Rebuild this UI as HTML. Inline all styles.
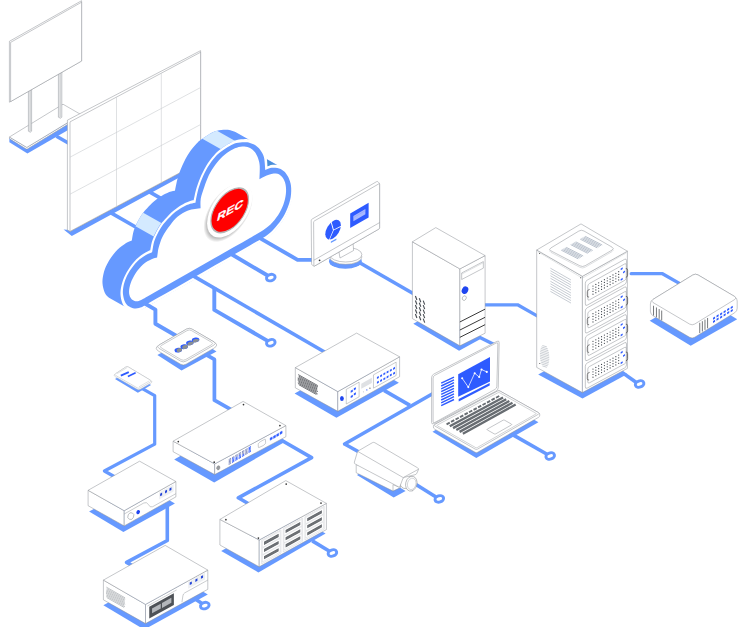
<!DOCTYPE html>
<html lang="en">
<head>
<meta charset="utf-8">
<title>Cloud recording network diagram</title>
<style>
html,body{margin:0;padding:0;background:#fff;}
body{width:748px;height:627px;overflow:hidden;font-family:"Liberation Sans",sans-serif;}
svg{display:block;}
</style>
</head>
<body>
<svg width="748" height="627" viewBox="0 0 748 627">
<rect width="748" height="627" fill="#fff"/>
<polygon points="9.4,138 9.4,142.2 27.4,153.6 82,122 82,116" fill="#6699ff"/>
<polyline points="56.5,136.2 70,144" fill="none" stroke="#6699ff" stroke-width="3.6" stroke-linecap="butt" stroke-linejoin="round" />
<path d="M9.4,137.8 Q9.4,137 10.09,137.41 L26.11,146.99 Q26.8,147.4 27.48,146.99 L80.32,115.01 Q81,114.6 81,115.4 L81,115.5 Q81,116.3 80.32,116.72 L27.48,148.88 Q26.8,149.3 26.12,148.88 L10.08,139.12 Q9.4,138.7 9.4,137.9 Z" fill="#fff" stroke="#8b8f94" stroke-width="0.5"/>
<polygon points="9.4,137 63,104.2 81,114.6 26.8,147.4" fill="#fff" stroke="#8b8f94" stroke-width="0.5" stroke-linejoin="round"/>
<polygon points="58.4,60 61.8,60 61.8,117.2 60.4,118.2 58.4,117.2" fill="#f4f5f6" stroke="#8b8f94" stroke-width="0.5" stroke-linejoin="round"/>
<polyline points="60.1,60 60.1,117.2" fill="none" stroke="#8b8f94" stroke-width="0.5" stroke-linecap="butt" stroke-linejoin="round" />
<polygon points="28.4,80 31.6,80 31.6,131.2 30.3,132.2 28.4,131.2" fill="#f4f5f6" stroke="#8b8f94" stroke-width="0.5" stroke-linejoin="round"/>
<polyline points="30.1,80 30.1,131.2" fill="none" stroke="#8b8f94" stroke-width="0.5" stroke-linecap="butt" stroke-linejoin="round" />
<polygon points="9.4,41.3 81.6,0.7 81.6,61 9.4,102.2" fill="#fff" stroke="#8b8f94" stroke-width="0.5" stroke-linejoin="round"/>
<polygon points="10.6,42.4 81.6,2.2 81.6,61 10.6,101.6" fill="#fff" stroke="#8b8f94" stroke-width="0.5" stroke-linejoin="round"/>
<polygon points="63.6,229.6 71.8,235.9 205,163.4 205,157 70,230" fill="#6699ff"/>
<polyline points="111,212.9 136.5,227.5" fill="none" stroke="#6699ff" stroke-width="3.6" stroke-linecap="butt" stroke-linejoin="round" />
<polyline points="149.5,191.9 163,199.6" fill="none" stroke="#6699ff" stroke-width="3.6" stroke-linecap="butt" stroke-linejoin="round" />
<polygon points="67.4,120.2 200.6,50.62 200.6,161.72 70,231.4 67.4,229.9" fill="#fff" stroke="#8b8f94" stroke-width="0.5" stroke-linejoin="round"/>
<polygon points="70,121.9 200.6,52.22 200.6,161.72 70,231.4" fill="#fff" stroke="#8b8f94" stroke-width="0.5" stroke-linejoin="round"/>
<polyline points="116.5,97.09 116.5,206.59" fill="none" stroke="#c9ccd0" stroke-width="0.6" stroke-linecap="butt" stroke-linejoin="round" />
<polyline points="161.3,73.19 161.3,182.69" fill="none" stroke="#c9ccd0" stroke-width="0.6" stroke-linecap="butt" stroke-linejoin="round" />
<polyline points="70,157.2 200.6,87.52" fill="none" stroke="#c9ccd0" stroke-width="0.6" stroke-linecap="butt" stroke-linejoin="round" />
<polyline points="70,194.2 200.6,124.52" fill="none" stroke="#c9ccd0" stroke-width="0.6" stroke-linecap="butt" stroke-linejoin="round" />
<polygon points="115.32,251.92 115.32,251.92 113.31,254.4 113.31,254.4 111.42,256.96 111.42,256.96 109.73,259.48 109.73,259.48 108.25,261.93 108.25,261.93 106.94,264.38 106.94,264.38 105.8,266.84 105.8,266.84 104.82,269.31 104.82,269.31 104,271.85 104,271.85 103.35,274.42 103.35,274.43 102.86,276.94 102.86,276.94 102.55,279.29 102.55,279.3 102.44,281.46 102.44,281.46 102.51,283.48 102.52,283.48 102.74,285.39 102.74,285.39 103.07,287.24 103.07,287.24 103.52,289.1 103.52,289.1 104.1,290.93 104.11,290.94 104.8,292.66 104.81,292.67 105.62,294.2 105.62,294.21 106.54,295.5 106.55,295.51 107.57,296.58 107.58,296.59 108.7,297.49 108.7,297.49 109.9,298.28 109.91,298.29 128.11,308.49 128.11,308.49 129.43,309.22 129.43,309.22 130.88,309.86 130.89,309.86 132.45,310.36 132.45,310.36 134.09,310.65 134.1,310.65 134.1,310.65 135.85,310.66 135.85,310.66 137.65,310.45 137.66,310.45 139.38,310.11 139.39,310.11 140.93,309.7 140.93,309.7 142.09,309.31 142.1,309.31 142.98,308.87 142.98,308.86 143.95,308.28 145.47,307.4 147.03,306.52 147.03,306.52 148.63,305.6 148.63,305.6 151.53,303.93 157.03,300.78 166.15,295.55 177.98,288.78 190.9,281.38 203.27,274.3 215.64,267.21 228.56,259.82 240.39,253.04 249.51,247.82 254.88,244.77 257.57,243.27 257.57,243.27 259.14,242.38 259.15,242.38 261.1,241.18 261.11,241.18 263.7,239.55 263.7,239.55 266.19,237.95 266.2,237.95 268.58,236.28 268.58,236.28 270.85,234.48 270.85,234.47 272.93,232.58 272.93,232.58 274.83,230.61 274.84,230.61 276.66,228.51 276.66,228.51 278.51,226.21 278.51,226.21 280.43,223.68 280.43,223.68 282.39,220.96 282.39,220.95 284.28,218.03 284.29,218.03 286.02,214.93 286.02,214.93 287.62,211.57 287.62,211.57 289.11,207.99 289.11,207.99 290.41,204.36 290.41,204.36 291.42,200.88 291.42,200.87 292.09,197.53 292.09,197.53 292.47,194.27 292.47,194.26 292.63,191.15 292.63,191.15 292.6,188.25 292.6,188.25 292.38,185.58 292.38,185.58 291.96,183.11 291.96,183.11 291.35,180.8 291.35,180.8 290.57,178.58 290.57,178.58 289.61,176.39 289.61,176.38 288.45,174.27 288.45,174.27 287.15,172.31 287.15,172.31 285.74,170.61 285.74,170.61 284.23,169.2 284.23,169.2 282.61,168.04 282.61,168.04 265.79,158.62 265.56,157.25 265.56,157.25 265.18,155.75 265.18,155.75 264.55,154.14 264.55,154.13 263.64,152.31 263.64,152.31 262.51,150.37 262.51,150.36 261.25,148.48 261.25,148.48 259.97,146.84 259.96,146.84 258.67,145.52 258.66,145.51 257.32,144.42 257.31,144.42 255.94,143.5 255.94,143.5 254.54,142.69 254.54,142.69 236.34,132.49 236.34,132.48 234.86,131.76 234.86,131.76 233.32,131.15 233.32,131.15 231.8,130.67 231.8,130.67 230.38,130.28 230.38,130.28 229.13,130 229.13,130 227.97,129.82 227.97,129.82 226.74,129.74 226.73,129.74 225.27,129.75 225.27,129.75 223.43,129.83 223.43,129.83 221.31,129.99 221.31,129.99 219.11,130.26 219.1,130.26 217.01,130.68 217.01,130.69 215.14,131.28 215.13,131.28 213.39,132.01 213.39,132.01 211.69,132.85 211.69,132.85 209.94,133.79 209.94,133.8 208.04,134.89 208.04,134.89 206.05,136.13 206.05,136.13 204.1,137.42 204.1,137.42 202.34,138.66 202.33,138.66 200.85,139.72 200.85,139.72 199.53,140.71 199.53,140.72 198.19,141.87 198.18,141.88 196.66,143.41 196.66,143.41 194.87,145.4 194.87,145.4 192.91,147.73 192.91,147.73 190.92,150.28 190.92,150.29 189.04,152.97 189.04,152.97 187.28,155.81 187.28,155.81 185.59,158.83 185.59,158.83 184,161.91 184,161.91 182.55,164.92 182.55,164.92 181.27,167.89 181.27,167.89 180.12,170.85 180.12,170.85 179.1,173.73 179.1,173.73 178.2,176.46 178.2,176.46 177.44,179.09 177.44,179.09 176.82,181.61 176.82,181.62 176.31,183.93 176.31,183.93 175.87,185.96 175.87,185.96 175.51,187.74 175.51,187.74 175.22,189.29 175.22,189.29 175.02,190.53 175,190.64 174.64,190.71 173.02,191.05 173.02,191.05 171.12,191.51 171.11,191.51 169.21,192.12 169.2,192.12 167.34,192.88 167.34,192.88 165.41,193.78 165.41,193.78 163.45,194.8 163.45,194.8 161.51,195.92 161.5,195.92 159.56,197.15 159.56,197.15 157.61,198.5 157.61,198.5 155.69,199.93 155.69,199.93 153.85,201.42 153.85,201.43 152.11,202.99 152.11,202.99 150.45,204.63 150.45,204.63 148.87,206.29 148.87,206.29 147.35,207.92 147.35,207.92 145.9,209.5 145.9,209.5 144.5,211.08 144.5,211.08 143.15,212.71 143.14,212.71 141.86,214.44 141.86,214.44 140.66,216.26 140.66,216.27 139.54,218.15 139.54,218.15 138.49,220.09 138.49,220.09 137.47,222.08 137.47,222.08 136.46,224.11 136.46,224.11 135.46,226.2 135.46,226.2 134.52,228.41 134.52,228.41 133.7,230.77 133.7,230.77 133.01,233.54 133.01,233.55 132.44,236.58 132.44,236.58 131.99,239.32 131.78,240.56 131.35,240.72 129.85,241.28 129.85,241.28 128.04,242.07 128.03,242.07 126.12,243.11 126.11,243.11 124.09,244.41 124.08,244.41 121.86,245.94 121.86,245.94 119.57,247.7 119.57,247.71 117.39,249.68 117.39,249.68 115.32,251.92" fill="#6699ff"/>
<polygon points="153.7,236.42 154.7,234.33 155.72,232.3 156.73,230.32 157.79,228.38 158.9,226.49 160.1,224.67 161.38,222.94 143.18,212.74 141.9,214.47 140.7,216.29 139.59,218.18 138.53,220.12 137.52,222.1 136.5,224.13 135.5,226.22" fill="#d4eaff"/>
<polygon points="220.56,148.9 222.33,147.66 224.27,146.37 226.26,145.13 228.16,144.04 229.92,143.1 231.61,142.26 233.35,141.53 235.22,140.93 217.02,130.73 215.15,131.33 213.41,132.06 211.72,132.9 209.96,133.84 208.06,134.93 206.07,136.17 204.13,137.46 202.36,138.7" fill="#d4eaff"/>
<polygon points="264.2,158 277.4,165.4 265,169" fill="#4a8fd6"/>
<clipPath id="cc"><path d="M36.88,-29.2 L37.36,-31.44 L37.88,-33.9 L38.52,-36.53 L39.27,-38.77 L40.15,-40.52 L41.18,-42.1 L42.3,-43.57 L43.46,-45 L44.61,-46.38 L45.79,-47.67 L47.02,-48.86 L48.34,-49.93 L49.74,-50.86 L51.23,-51.67 L52.81,-52.42 L54.47,-53.15 L56.2,-53.91 L57.99,-54.63 L59.84,-55.29 L61.76,-55.82 L63.79,-56.24 L65.93,-56.55 L68.1,-56.77 L70.26,-56.87 L72.4,-56.87 L74.57,-56.76 L76.7,-56.55 L78.7,-56.26 L80.73,-55.81 L82.79,-55.21 L84.63,-54.62 L86.74,-53.95 L87.05,-55.38 L87.28,-56.49 L87.6,-57.84 L88.02,-59.37 L88.52,-61.14 L89.1,-63.14 L89.8,-65.25 L90.65,-67.37 L91.66,-69.53 L92.81,-71.78 L94.11,-74.02 L95.56,-76.19 L97.19,-78.32 L98.99,-80.43 L100.9,-82.43 L102.86,-84.19 L104.95,-85.73 L107.18,-87.1 L109.39,-88.26 L111.39,-89.19 L113.03,-89.8 L114.44,-90.15 L115.88,-90.36 L117.56,-90.56 L119.56,-90.78 L121.75,-90.94 L123.98,-91.03 L126.11,-91.03 L128.06,-90.96 L129.91,-90.83 L131.74,-90.58 L133.67,-90.15 L135.86,-89.44 L138.25,-88.5 L140.59,-87.48 L142.64,-86.53 L144.19,-85.76 L145.41,-85.09 L146.55,-84.36 L147.86,-83.45 L149.39,-82.33 L151.01,-81.07 L152.62,-79.72 L154.16,-78.3 L155.63,-76.82 L157.05,-75.29 L158.4,-73.66 L159.71,-71.85 L161.04,-69.7 L162.4,-67.27 L163.62,-64.83 L164.59,-62.68 L165.21,-60.97 L165.6,-59.5 L165.86,-58.01 L166.11,-56.31 L166.36,-54.18 L166.55,-51.79 L166.7,-49.58 L166.9,-46.54 L169.52,-46.13 L170.98,-45.92 L172.64,-45.56 L174.38,-44.97 L176.35,-44.04 L178.6,-42.85 L180.85,-41.5 L182.89,-40.05 L184.71,-38.53 L186.42,-36.88 L188.02,-35.08 L189.53,-33.12 L190.97,-30.89 L192.33,-28.43 L193.56,-25.86 L194.59,-23.32 L195.42,-20.84 L196.08,-18.38 L196.53,-15.88 L196.76,-13.27 L196.79,-10.5 L196.62,-7.61 L196.2,-4.72 L195.47,-1.92 L194.35,0.86 L192.91,3.65 L191.23,6.29 L189.45,8.64 L187.52,10.65 L185.41,12.42 L183.21,13.98 L181.03,15.37 L178.95,16.57 L176.92,17.58 L174.81,18.4 L172.53,19.07 L170.05,19.54 L167.39,19.82 L164.57,19.98 L161.6,20.11 L159.38,20.17 L157.61,20.16 L154.5,20.1 L148.29,20.05 L137.75,20.01 L124.09,19.95 L109.18,19.89 L94.89,19.83 L80.6,19.78 L65.69,19.72 L52.03,19.66 L41.5,19.62 L35.15,19.6 L31.8,19.59 L29.96,19.59 L28.15,19.56 L26.36,19.57 L25.31,19.59 L24.54,19.54 L23.44,19.31 L21.81,18.87 L19.99,18.27 L18.16,17.54 L16.5,16.7 L14.98,15.71 L13.47,14.54 L12.02,13.26 L10.67,11.94 L9.47,10.65 L8.39,9.36 L7.44,8.02 L6.58,6.54 L5.78,4.82 L5.05,2.91 L4.44,0.93 L3.96,-1.04 L3.6,-2.94 L3.36,-4.81 L3.28,-6.68 L3.4,-8.6 L3.74,-10.64 L4.27,-12.76 L4.98,-14.85 L5.88,-16.81 L6.95,-18.62 L8.21,-20.33 L9.66,-21.95 L11.3,-23.49 L13.19,-24.98 L15.3,-26.41 L17.53,-27.67 L19.79,-28.66 L22.15,-29.33 L24.66,-29.75 L27.14,-29.99 L29.37,-30.11 L31.4,-30.05 L33.34,-29.81 L35.02,-29.51Z"/></clipPath>
<g transform="matrix(0.87,-0.5,0,1,120,300)">
<path d="M36.88,-29.2 L37.36,-31.44 L37.88,-33.9 L38.52,-36.53 L39.27,-38.77 L40.15,-40.52 L41.18,-42.1 L42.3,-43.57 L43.46,-45 L44.61,-46.38 L45.79,-47.67 L47.02,-48.86 L48.34,-49.93 L49.74,-50.86 L51.23,-51.67 L52.81,-52.42 L54.47,-53.15 L56.2,-53.91 L57.99,-54.63 L59.84,-55.29 L61.76,-55.82 L63.79,-56.24 L65.93,-56.55 L68.1,-56.77 L70.26,-56.87 L72.4,-56.87 L74.57,-56.76 L76.7,-56.55 L78.7,-56.26 L80.73,-55.81 L82.79,-55.21 L84.63,-54.62 L86.74,-53.95 L87.05,-55.38 L87.28,-56.49 L87.6,-57.84 L88.02,-59.37 L88.52,-61.14 L89.1,-63.14 L89.8,-65.25 L90.65,-67.37 L91.66,-69.53 L92.81,-71.78 L94.11,-74.02 L95.56,-76.19 L97.19,-78.32 L98.99,-80.43 L100.9,-82.43 L102.86,-84.19 L104.95,-85.73 L107.18,-87.1 L109.39,-88.26 L111.39,-89.19 L113.03,-89.8 L114.44,-90.15 L115.88,-90.36 L117.56,-90.56 L119.56,-90.78 L121.75,-90.94 L123.98,-91.03 L126.11,-91.03 L128.06,-90.96 L129.91,-90.83 L131.74,-90.58 L133.67,-90.15 L135.86,-89.44 L138.25,-88.5 L140.59,-87.48 L142.64,-86.53 L144.19,-85.76 L145.41,-85.09 L146.55,-84.36 L147.86,-83.45 L149.39,-82.33 L151.01,-81.07 L152.62,-79.72 L154.16,-78.3 L155.63,-76.82 L157.05,-75.29 L158.4,-73.66 L159.71,-71.85 L161.04,-69.7 L162.4,-67.27 L163.62,-64.83 L164.59,-62.68 L165.21,-60.97 L165.6,-59.5 L165.86,-58.01 L166.11,-56.31 L166.36,-54.18 L166.55,-51.79 L166.7,-49.58 L166.9,-46.54 L169.52,-46.13 L170.98,-45.92 L172.64,-45.56 L174.38,-44.97 L176.35,-44.04 L178.6,-42.85 L180.85,-41.5 L182.89,-40.05 L184.71,-38.53 L186.42,-36.88 L188.02,-35.08 L189.53,-33.12 L190.97,-30.89 L192.33,-28.43 L193.56,-25.86 L194.59,-23.32 L195.42,-20.84 L196.08,-18.38 L196.53,-15.88 L196.76,-13.27 L196.79,-10.5 L196.62,-7.61 L196.2,-4.72 L195.47,-1.92 L194.35,0.86 L192.91,3.65 L191.23,6.29 L189.45,8.64 L187.52,10.65 L185.41,12.42 L183.21,13.98 L181.03,15.37 L178.95,16.57 L176.92,17.58 L174.81,18.4 L172.53,19.07 L170.05,19.54 L167.39,19.82 L164.57,19.98 L161.6,20.11 L159.38,20.17 L157.61,20.16 L154.5,20.1 L148.29,20.05 L137.75,20.01 L124.09,19.95 L109.18,19.89 L94.89,19.83 L80.6,19.78 L65.69,19.72 L52.03,19.66 L41.5,19.62 L35.15,19.6 L31.8,19.59 L29.96,19.59 L28.15,19.56 L26.36,19.57 L25.31,19.59 L24.54,19.54 L23.44,19.31 L21.81,18.87 L19.99,18.27 L18.16,17.54 L16.5,16.7 L14.98,15.71 L13.47,14.54 L12.02,13.26 L10.67,11.94 L9.47,10.65 L8.39,9.36 L7.44,8.02 L6.58,6.54 L5.78,4.82 L5.05,2.91 L4.44,0.93 L3.96,-1.04 L3.6,-2.94 L3.36,-4.81 L3.28,-6.68 L3.4,-8.6 L3.74,-10.64 L4.27,-12.76 L4.98,-14.85 L5.88,-16.81 L6.95,-18.62 L8.21,-20.33 L9.66,-21.95 L11.3,-23.49 L13.19,-24.98 L15.3,-26.41 L17.53,-27.67 L19.79,-28.66 L22.15,-29.33 L24.66,-29.75 L27.14,-29.99 L29.37,-30.11 L31.4,-30.05 L33.34,-29.81 L35.02,-29.51Z" fill="none" stroke="#fff" stroke-width="5.5" stroke-linejoin="miter"/>
</g>

<polyline points="257.8,236.9 297.6,259.85 313,259.85" fill="none" stroke="#6699ff" stroke-width="3.9" stroke-linecap="butt" stroke-linejoin="round" />
<polyline points="229.9,253.3 268,275.8" fill="none" stroke="#6699ff" stroke-width="3.9" stroke-linecap="butt" stroke-linejoin="round" />
<polyline points="192.3,275.4 325,352.2" fill="none" stroke="#6699ff" stroke-width="3.6" stroke-linecap="butt" stroke-linejoin="round" />
<polyline points="214.3,287.5 214.3,309.9 268,341.1" fill="none" stroke="#6699ff" stroke-width="3.9" stroke-linecap="butt" stroke-linejoin="round" />
<polyline points="144,303 155.4,309.6 155.4,323.7 177,336.2" fill="none" stroke="#6699ff" stroke-width="3.9" stroke-linecap="butt" stroke-linejoin="round" />
<polyline points="206,354.6 214.4,359.4 214.4,400.2 232,410.2" fill="none" stroke="#6699ff" stroke-width="3.7" stroke-linecap="butt" stroke-linejoin="round" />
<polyline points="141,387.8 154.7,395.6 154.7,444.2 104.4,471 115,477" fill="none" stroke="#6699ff" stroke-width="3.2" stroke-linecap="butt" stroke-linejoin="round" />
<polyline points="167.3,500 167.3,540.5 126.6,562.4 133,566" fill="none" stroke="#6699ff" stroke-width="3.6" stroke-linecap="butt" stroke-linejoin="round" />
<polyline points="278,438.2 311.6,457.6 238.3,497.8 249,504" fill="none" stroke="#6699ff" stroke-width="3.6" stroke-linecap="butt" stroke-linejoin="round" />
<polyline points="312.3,540.9 329.5,551.2" fill="none" stroke="#6699ff" stroke-width="3.6" stroke-linecap="butt" stroke-linejoin="round" />
<polyline points="360.6,263.2 414,294" fill="none" stroke="#6699ff" stroke-width="3.6" stroke-linecap="butt" stroke-linejoin="round" />
<polyline points="484,304.8 517.6,304.8 538,316.4" fill="none" stroke="#6699ff" stroke-width="3.3" stroke-linecap="butt" stroke-linejoin="round" />
<polyline points="631.2,273.7 662.5,273.7 682,284.9" fill="none" stroke="#6699ff" stroke-width="3.3" stroke-linecap="round" stroke-linejoin="round" />
<polyline points="621,371.6 636,382.2" fill="none" stroke="#6699ff" stroke-width="3.6" stroke-linecap="butt" stroke-linejoin="round" />
<polyline points="476,335.5 496,345.5" fill="none" stroke="#6699ff" stroke-width="3.6" stroke-linecap="butt" stroke-linejoin="round" />
<polyline points="513,434.9 547.5,454.5" fill="none" stroke="#6699ff" stroke-width="3.6" stroke-linecap="butt" stroke-linejoin="round" />
<polyline points="384,390.4 410,405.4" fill="none" stroke="#6699ff" stroke-width="3.6" stroke-linecap="butt" stroke-linejoin="round" />
<polyline points="433,393.5 344.6,444 359,452" fill="none" stroke="#6699ff" stroke-width="3.6" stroke-linecap="butt" stroke-linejoin="round" />
<polyline points="416,484.4 436,497" fill="none" stroke="#6699ff" stroke-width="3.6" stroke-linecap="butt" stroke-linejoin="round" />
<polyline points="196,599.6 202,603.6" fill="none" stroke="#6699ff" stroke-width="3.6" stroke-linecap="butt" stroke-linejoin="round" />
<ellipse cx="270.8" cy="277.6" rx="4.4" ry="3.15" fill="#fff" stroke="#6699ff" stroke-width="2.9" transform="rotate(-18 270.8 277.6)"/>
<ellipse cx="270.8" cy="342.8" rx="4.4" ry="3.15" fill="#fff" stroke="#6699ff" stroke-width="2.9" transform="rotate(-18 270.8 342.8)"/>
<ellipse cx="332.4" cy="553" rx="4.4" ry="3.15" fill="#fff" stroke="#6699ff" stroke-width="2.9" transform="rotate(-18 332.4 553)"/>
<ellipse cx="639.6" cy="384" rx="4.4" ry="3.15" fill="#fff" stroke="#6699ff" stroke-width="2.9" transform="rotate(-18 639.6 384)"/>
<ellipse cx="550.2" cy="456" rx="4.4" ry="3.15" fill="#fff" stroke="#6699ff" stroke-width="2.9" transform="rotate(-18 550.2 456)"/>
<ellipse cx="439.3" cy="498.9" rx="4.4" ry="3.15" fill="#fff" stroke="#6699ff" stroke-width="2.9" transform="rotate(-18 439.3 498.9)"/>
<ellipse cx="204.8" cy="605.6" rx="4.4" ry="3.15" fill="#fff" stroke="#6699ff" stroke-width="2.9" transform="rotate(-18 204.8 605.6)"/>

<g transform="matrix(0.87,-0.5,0,1,120,300)">
<path d="M36.88,-29.2 L37.36,-31.44 L37.88,-33.9 L38.52,-36.53 L39.27,-38.77 L40.15,-40.52 L41.18,-42.1 L42.3,-43.57 L43.46,-45 L44.61,-46.38 L45.79,-47.67 L47.02,-48.86 L48.34,-49.93 L49.74,-50.86 L51.23,-51.67 L52.81,-52.42 L54.47,-53.15 L56.2,-53.91 L57.99,-54.63 L59.84,-55.29 L61.76,-55.82 L63.79,-56.24 L65.93,-56.55 L68.1,-56.77 L70.26,-56.87 L72.4,-56.87 L74.57,-56.76 L76.7,-56.55 L78.7,-56.26 L80.73,-55.81 L82.79,-55.21 L84.63,-54.62 L86.74,-53.95 L87.05,-55.38 L87.28,-56.49 L87.6,-57.84 L88.02,-59.37 L88.52,-61.14 L89.1,-63.14 L89.8,-65.25 L90.65,-67.37 L91.66,-69.53 L92.81,-71.78 L94.11,-74.02 L95.56,-76.19 L97.19,-78.32 L98.99,-80.43 L100.9,-82.43 L102.86,-84.19 L104.95,-85.73 L107.18,-87.1 L109.39,-88.26 L111.39,-89.19 L113.03,-89.8 L114.44,-90.15 L115.88,-90.36 L117.56,-90.56 L119.56,-90.78 L121.75,-90.94 L123.98,-91.03 L126.11,-91.03 L128.06,-90.96 L129.91,-90.83 L131.74,-90.58 L133.67,-90.15 L135.86,-89.44 L138.25,-88.5 L140.59,-87.48 L142.64,-86.53 L144.19,-85.76 L145.41,-85.09 L146.55,-84.36 L147.86,-83.45 L149.39,-82.33 L151.01,-81.07 L152.62,-79.72 L154.16,-78.3 L155.63,-76.82 L157.05,-75.29 L158.4,-73.66 L159.71,-71.85 L161.04,-69.7 L162.4,-67.27 L163.62,-64.83 L164.59,-62.68 L165.21,-60.97 L165.6,-59.5 L165.86,-58.01 L166.11,-56.31 L166.36,-54.18 L166.55,-51.79 L166.7,-49.58 L166.9,-46.54 L169.52,-46.13 L170.98,-45.92 L172.64,-45.56 L174.38,-44.97 L176.35,-44.04 L178.6,-42.85 L180.85,-41.5 L182.89,-40.05 L184.71,-38.53 L186.42,-36.88 L188.02,-35.08 L189.53,-33.12 L190.97,-30.89 L192.33,-28.43 L193.56,-25.86 L194.59,-23.32 L195.42,-20.84 L196.08,-18.38 L196.53,-15.88 L196.76,-13.27 L196.79,-10.5 L196.62,-7.61 L196.2,-4.72 L195.47,-1.92 L194.35,0.86 L192.91,3.65 L191.23,6.29 L189.45,8.64 L187.52,10.65 L185.41,12.42 L183.21,13.98 L181.03,15.37 L178.95,16.57 L176.92,17.58 L174.81,18.4 L172.53,19.07 L170.05,19.54 L167.39,19.82 L164.57,19.98 L161.6,20.11 L159.38,20.17 L157.61,20.16 L154.5,20.1 L148.29,20.05 L137.75,20.01 L124.09,19.95 L109.18,19.89 L94.89,19.83 L80.6,19.78 L65.69,19.72 L52.03,19.66 L41.5,19.62 L35.15,19.6 L31.8,19.59 L29.96,19.59 L28.15,19.56 L26.36,19.57 L25.31,19.59 L24.54,19.54 L23.44,19.31 L21.81,18.87 L19.99,18.27 L18.16,17.54 L16.5,16.7 L14.98,15.71 L13.47,14.54 L12.02,13.26 L10.67,11.94 L9.47,10.65 L8.39,9.36 L7.44,8.02 L6.58,6.54 L5.78,4.82 L5.05,2.91 L4.44,0.93 L3.96,-1.04 L3.6,-2.94 L3.36,-4.81 L3.28,-6.68 L3.4,-8.6 L3.74,-10.64 L4.27,-12.76 L4.98,-14.85 L5.88,-16.81 L6.95,-18.62 L8.21,-20.33 L9.66,-21.95 L11.3,-23.49 L13.19,-24.98 L15.3,-26.41 L17.53,-27.67 L19.79,-28.66 L22.15,-29.33 L24.66,-29.75 L27.14,-29.99 L29.37,-30.11 L31.4,-30.05 L33.34,-29.81 L35.02,-29.51Z" fill="#6699ff"/>
<path d="M42.61,-21.1 L42.7,-21.63 L42.82,-22.39 L42.98,-23.33 L43.19,-24.41 L43.38,-25.61 L43.59,-26.97 L43.91,-28.48 L44.46,-30.17 L45.21,-32.13 L46.13,-34.31 L47.28,-36.54 L48.73,-38.64 L50.58,-40.61 L52.78,-42.53 L55.12,-44.33 L57.39,-45.91 L59.47,-47.28 L61.5,-48.48 L63.63,-49.46 L66.05,-50.18 L68.81,-50.65 L71.82,-50.9 L75,-50.85 L78.29,-50.46 L82.06,-49.45 L86.21,-47.94 L89.99,-46.43 L92.61,-45.4 L92.56,-47.12 L92.47,-49.59 L92.51,-52.36 L92.84,-54.98 L93.56,-57.39 L94.56,-59.82 L95.71,-62.22 L96.88,-64.56 L98.02,-66.87 L99.21,-69.16 L100.5,-71.36 L101.96,-73.42 L103.62,-75.35 L105.44,-77.17 L107.37,-78.84 L109.35,-80.32 L111.38,-81.62 L113.47,-82.73 L115.64,-83.68 L117.89,-84.45 L120.29,-85.05 L122.8,-85.48 L125.31,-85.74 L127.71,-85.85 L129.96,-85.8 L132.13,-85.61 L134.25,-85.25 L136.37,-84.71 L138.55,-83.98 L140.75,-83.06 L142.87,-82.01 L144.8,-80.9 L146.5,-79.74 L148.04,-78.49 L149.46,-77.17 L150.8,-75.8 L152.08,-74.38 L153.27,-72.92 L154.38,-71.37 L155.42,-69.69 L156.41,-67.84 L157.34,-65.86 L158.17,-63.81 L158.89,-61.76 L159.49,-59.82 L159.99,-57.93 L160.37,-55.89 L160.62,-53.49 L160.67,-50.3 L160.55,-46.56 L160.38,-43.08 L160.27,-40.66 L161.71,-40.64 L163.77,-40.63 L166.16,-40.52 L168.59,-40.21 L171.15,-39.68 L173.96,-38.98 L176.7,-38.11 L179.09,-37.05 L181.05,-35.8 L182.72,-34.37 L184.2,-32.77 L185.56,-31.02 L186.83,-29.09 L187.97,-26.99 L188.94,-24.78 L189.72,-22.54 L190.29,-20.26 L190.68,-17.91 L190.88,-15.53 L190.87,-13.16 L190.65,-10.79 L190.22,-8.39 L189.6,-6.04 L188.79,-3.8 L187.82,-1.69 L186.66,0.33 L185.31,2.25 L183.71,4.06 L181.83,5.79 L179.7,7.44 L177.41,8.91 L175.05,10.13 L172.65,11.02 L170.16,11.65 L167.57,12.1 L164.89,12.45 L162.11,12.66 L159.22,12.73 L156.25,12.72 L153.23,12.71 L151.02,12.73 L149.33,12.72 L146.41,12.69 L140.54,12.66 L130.53,12.62 L117.54,12.56 L103.36,12.5 L89.78,12.44 L76.2,12.38 L62.02,12.32 L49.03,12.26 L39.02,12.22 L33.01,12.21 L29.87,12.23 L28.14,12.23 L26.33,12.16 L24.32,12.07 L22.82,11.95 L21.57,11.73 L20.32,11.36 L19.05,10.8 L17.87,10.1 L16.76,9.28 L15.7,8.35 L14.67,7.33 L13.67,6.21 L12.76,4.97 L12.01,3.6 L11.38,2.09 L10.85,0.43 L10.5,-1.32 L10.39,-3.1 L10.52,-4.95 L10.87,-6.88 L11.44,-8.81 L12.24,-10.68 L13.29,-12.51 L14.59,-14.32 L16.09,-16.04 L17.78,-17.61 L19.7,-19.06 L21.85,-20.41 L24.12,-21.55 L26.44,-22.38 L28.9,-22.81 L31.49,-22.92 L34.02,-22.83 L36.26,-22.67 L38.24,-22.37 L40.05,-21.9 L41.55,-21.42Z" fill="#fff"/>
</g>
<defs><radialGradient id="rg" cx="0.5" cy="0.5" r="0.5"><stop offset="0.8" stop-color="#000" stop-opacity="0.35"/><stop offset="1" stop-color="#000" stop-opacity="0"/></radialGradient></defs>
<g transform="matrix(0.87,-0.5,0,1,229.7,210.3)">
<ellipse cx="-1.8" cy="1.4" rx="28.4" ry="26.0" fill="url(#rg)"/>
<ellipse cx="0" cy="0" rx="26.0" ry="24.0" fill="#fff"/>
<ellipse cx="0" cy="0" rx="21.6" ry="19.5" fill="#f00" stroke="#b4b4b4" stroke-width="1.4"/>
<text x="0" y="3.5" text-anchor="middle" font-family="'Liberation Sans', sans-serif" font-weight="bold" font-size="9.7" fill="#fff" stroke="#fff" stroke-width="0.3" transform="translate(1.0,0) scale(1.42,1) skewX(-12)" letter-spacing="0.3">REC</text>
</g>
<ellipse cx="345.4" cy="261.2" rx="16.4" ry="7.6" fill="#6699ff"/>
<ellipse cx="345.7" cy="256.9" rx="16.2" ry="7.4" fill="#fff" stroke="#8b8f94" stroke-width="0.5"/>
<ellipse cx="345.7" cy="254.6" rx="16.2" ry="7.4" fill="#fff" stroke="#8b8f94" stroke-width="0.5"/>
<polygon points="338.6,250 353,242 353.6,250.5 340,258" fill="#fff" stroke="#8b8f94" stroke-width="0.5" stroke-linejoin="round"/>
<path d="M311.21,220.6 Q311.2,219.6 312.07,219.1 L376.53,181.7 Q377.4,181.2 378.11,181.91 L378.89,182.69 Q379.6,183.4 379.6,184.4 L379.6,227.6 Q379.6,228.6 378.73,229.1 L314.77,265.9 Q313.9,266.4 313.11,265.78 L312.39,265.22 Q311.6,264.6 311.59,263.6 Z" fill="#fff" stroke="#8b8f94" stroke-width="0.5"/>
<path d="M313.61,222.2 Q313.6,221.4 314.29,221 L378.91,183.8 Q379.6,183.4 379.6,184.2 L379.6,227.8 Q379.6,228.6 378.91,229 L314.59,266 Q313.9,266.4 313.89,265.6 Z" fill="#fff" stroke="#8b8f94" stroke-width="0.5"/>
<polyline points="313.9,260.2 379.6,222.6" fill="none" stroke="#8b8f94" stroke-width="0.5" stroke-linecap="butt" stroke-linejoin="round" />
<circle cx="319.6" cy="260.3" r="0.9" fill="#333"/>
<g transform="matrix(0.866,-0.5,0,1,333.1,229.7)">
<ellipse cx="0" cy="0" rx="9.0" ry="8.8" fill="#2e5bff"/>
<path d="M0.4,0.6 L-2.2,-8.6 M0.4,0.6 L9.2,1.2 M0.4,0.6 L-4.6,8.2" stroke="#fff" stroke-width="0.9" fill="none"/>
<rect x="-2.6" y="10.6" width="6.4" height="1.5" fill="#6699ff"/>
</g>
<polygon points="350.2,213.4 368.6,202.8 368.6,217.4 350.2,228" fill="#2e5bff"/>
<polygon points="353.4,216 365.4,209 365.4,214.2 353.4,221.2" fill="#a9b9ff"/>
<polyline points="353.4,217.6 365.4,210.6" fill="none" stroke="#8a9df8" stroke-width="0.5" stroke-linecap="butt" stroke-linejoin="round" />
<polygon points="413.3,323.7 459.1,350.8 481.4,338.4 435.6,311.3" fill="#6699ff"/>
<polygon points="412.4,241.8 459.9,268.9 459.9,345.8 412.4,318.6" fill="#fff" stroke="#8b8f94" stroke-width="0.5" stroke-linejoin="round"/>
<polygon points="459.9,268.9 485.1,255.6 485.1,333.2 459.9,345.8" fill="#fff" stroke="#8b8f94" stroke-width="0.5" stroke-linejoin="round"/>
<polygon points="412.4,241.8 435.8,227.6 485.1,255.6 459.9,268.9" fill="#fff" stroke="#8b8f94" stroke-width="0.5" stroke-linejoin="round"/>
<polygon points="461.66,272.97 483.34,261.57 483.34,268.16 461.66,279.51" fill="#fff" stroke="#8b8f94" stroke-width="0.5" stroke-linejoin="round"/>
<polyline points="461.66,274.12 483.34,262.74" fill="none" stroke="#c0c4c8" stroke-width="0.5" stroke-linecap="butt" stroke-linejoin="round" />
<ellipse cx="465" cy="290.2" rx="3.1" ry="3.9" fill="#1f45f0" transform="rotate(28 465 290.2)"/>
<ellipse cx="464.3" cy="298.1" rx="1.9" ry="2.4" fill="#fff" stroke="#8b8f94" stroke-width="0.5" transform="rotate(28 464.3 298.1)"/>
<polyline points="459.9,321.96 485.1,309.14" fill="none" stroke="#222" stroke-width="0.9" stroke-linecap="butt" stroke-linejoin="round" />
<polyline points="459.9,330.04 485.1,317.29" fill="none" stroke="#222" stroke-width="0.9" stroke-linecap="butt" stroke-linejoin="round" />
<polyline points="459.9,337.34 485.1,324.66" fill="none" stroke="#222" stroke-width="0.9" stroke-linecap="butt" stroke-linejoin="round" />
<path d="M415.4,296l1.5,4.0M415.4,300.5l1.5,4.0M415.4,305l1.5,4.0M415.4,309.5l1.5,4.0M415.4,314l1.5,4.0M419.3,298.3l1.5,4.0M419.3,302.8l1.5,4.0M419.3,307.3l1.5,4.0M419.3,311.8l1.5,4.0M419.3,316.3l1.5,4.0M423.2,300.6l1.5,4.0M423.2,305.1l1.5,4.0M423.2,309.6l1.5,4.0M423.2,314.1l1.5,4.0M423.2,318.6l1.5,4.0" fill="none" stroke="#4a4f55" stroke-width="1.15"/>
<polygon points="538.2,374.4 582.5,398.6 627.4,373.9 583.1,349.7" fill="#6699ff"/>
<polygon points="536.7,250 582.4,276.3 582.4,392.6 536.7,367.4" fill="#fff" stroke="#8b8f94" stroke-width="0.5" stroke-linejoin="round"/>
<polygon points="582.4,276.3 627.4,251.2 627.4,368.4 582.4,392.6" fill="#fff" stroke="#8b8f94" stroke-width="0.5" stroke-linejoin="round"/>
<polygon points="536.7,250 581,223.9 627.4,251.2 582.4,276.3" fill="#fff" stroke="#8b8f94" stroke-width="0.5" stroke-linejoin="round"/>
<polyline points="537.6,251.6 582.4,278.2 626.5,252.8" fill="none" stroke="#c0c4c8" stroke-width="0.45" stroke-linecap="butt" stroke-linejoin="round" />
<path d="M550.97,252.38 Q548.3,251 550.87,249.45 L578.83,232.55 Q581.4,231 584,232.5 L612,248.6 Q614.6,250.1 612.01,251.61 L585.19,267.19 Q582.6,268.7 579.93,267.32 Z" fill="#fff" stroke="#b4b8bd" stroke-width="0.45"/>
<path d="M550.97,250.88 Q548.3,249.5 550.87,247.95 L578.83,231.05 Q581.4,229.5 584,231 L612,247.1 Q614.6,248.6 612.01,250.11 L585.19,265.69 Q582.6,267.2 579.93,265.82 Z" fill="#fff" stroke="#8b8f94" stroke-width="0.5"/>
<path d="M585.2,236.3l17,8.7M583.95,237.01l17,8.7M582.7,237.72l17,8.7M581.45,238.43l17,8.7M580.2,239.14l17,8.7M575.7,241.8l17,8.7M574.45,242.51l17,8.7M573.2,243.22l17,8.7M571.95,243.93l17,8.7M570.7,244.64l17,8.7M566.2,247.3l17,8.7M564.95,248.01l17,8.7M563.7,248.72l17,8.7M562.45,249.43l17,8.7M561.2,250.14l17,8.7" fill="none" stroke="#74859a" stroke-width="0.5"/>
<path d="M550.41,268.19L570.98,279.98M550.41,270.71L570.98,282.49M550.41,273.23L570.98,285M550.41,275.74L570.98,287.5M550.41,278.26L570.98,290.01M550.41,281.3L570.98,293.04M550.41,283.82L570.98,295.55M550.41,286.34L570.98,298.05M550.41,288.86L570.98,300.56M550.41,291.37L570.98,303.07" fill="none" stroke="#8e99a6" stroke-width="0.5"/>
<circle cx="539.6" cy="253.6" r="0.5" fill="#333"/>
<circle cx="580.6" cy="277.8" r="0.5" fill="#333"/>
<circle cx="539.8" cy="363.4" r="0.5" fill="#333"/>
<path d="M542.36,345.53L546.84,346.87M541.4,346.94L547.8,348.86M540.79,348.46L548.41,350.74M540.38,350.03L548.82,352.57M540.11,351.65L549.09,354.35M539.95,353.31L549.25,356.09M539.9,354.99L549.3,357.81M539.95,356.71L549.25,359.49M540.11,358.45L549.09,361.15M540.38,360.23L548.82,362.77M540.79,362.06L548.41,364.34M541.4,363.94L547.8,365.86M542.36,365.93L546.84,367.27" fill="none" stroke="#9aa3ad" stroke-width="0.5"/>
<path d="M585.32,283.38 Q585.32,281.18 587.25,280.11 L624.58,259.33 Q626.5,258.26 626.5,260.46 L626.5,281.26 Q626.5,283.46 624.57,284.52 L587.25,305.14 Q585.32,306.2 585.32,304 Z" fill="#fff" stroke="#8b8f94" stroke-width="0.5"/>
<path d="M587.8,286.26 Q587.8,284.46 589.37,283.59 L624.7,263.95 Q626.27,263.08 626.27,264.88 L626.27,277.68 Q626.27,279.48 624.7,280.35 L589.38,299.89 Q587.8,300.76 587.8,298.96 Z" fill="#fff" stroke="#8b8f94" stroke-width="0.5"/>
<circle cx="592.98" cy="286.01" r="0.62" fill="#3f454c"/>
<circle cx="595.83" cy="284.43" r="0.62" fill="#3f454c"/>
<circle cx="598.69" cy="282.84" r="0.62" fill="#3f454c"/>
<circle cx="601.55" cy="281.26" r="0.62" fill="#3f454c"/>
<circle cx="604.4" cy="279.67" r="0.62" fill="#3f454c"/>
<circle cx="607.26" cy="278.08" r="0.62" fill="#3f454c"/>
<circle cx="610.12" cy="276.5" r="0.62" fill="#3f454c"/>
<circle cx="612.98" cy="274.91" r="0.62" fill="#3f454c"/>
<circle cx="615.84" cy="273.32" r="0.62" fill="#3f454c"/>
<circle cx="618.69" cy="271.74" r="0.62" fill="#3f454c"/>
<circle cx="592.98" cy="288.75" r="0.62" fill="#3f454c"/>
<circle cx="595.83" cy="287.17" r="0.62" fill="#3f454c"/>
<circle cx="598.69" cy="285.58" r="0.62" fill="#3f454c"/>
<circle cx="601.55" cy="284" r="0.62" fill="#3f454c"/>
<circle cx="604.4" cy="282.41" r="0.62" fill="#3f454c"/>
<circle cx="607.26" cy="280.83" r="0.62" fill="#3f454c"/>
<circle cx="610.12" cy="279.24" r="0.62" fill="#3f454c"/>
<circle cx="612.98" cy="277.66" r="0.62" fill="#3f454c"/>
<circle cx="615.84" cy="276.07" r="0.62" fill="#3f454c"/>
<circle cx="618.69" cy="274.49" r="0.62" fill="#3f454c"/>
<circle cx="592.98" cy="291.49" r="0.62" fill="#3f454c"/>
<circle cx="595.83" cy="289.91" r="0.62" fill="#3f454c"/>
<circle cx="598.69" cy="288.32" r="0.62" fill="#3f454c"/>
<circle cx="601.55" cy="286.74" r="0.62" fill="#3f454c"/>
<circle cx="604.4" cy="285.16" r="0.62" fill="#3f454c"/>
<circle cx="607.26" cy="283.57" r="0.62" fill="#3f454c"/>
<circle cx="610.12" cy="281.99" r="0.62" fill="#3f454c"/>
<circle cx="612.98" cy="280.41" r="0.62" fill="#3f454c"/>
<circle cx="615.84" cy="278.82" r="0.62" fill="#3f454c"/>
<circle cx="618.69" cy="277.24" r="0.62" fill="#3f454c"/>
<circle cx="592.98" cy="294.23" r="0.62" fill="#3f454c"/>
<circle cx="595.83" cy="292.65" r="0.62" fill="#3f454c"/>
<circle cx="598.69" cy="291.06" r="0.62" fill="#3f454c"/>
<circle cx="601.55" cy="289.48" r="0.62" fill="#3f454c"/>
<circle cx="604.4" cy="287.9" r="0.62" fill="#3f454c"/>
<circle cx="607.26" cy="286.32" r="0.62" fill="#3f454c"/>
<circle cx="610.12" cy="284.74" r="0.62" fill="#3f454c"/>
<circle cx="612.98" cy="283.15" r="0.62" fill="#3f454c"/>
<circle cx="615.84" cy="281.57" r="0.62" fill="#3f454c"/>
<circle cx="618.69" cy="279.99" r="0.62" fill="#3f454c"/>
<polygon points="620.58,268.77 622.58,267.37 622.78,268.97 620.78,270.37" fill="#2e5bff"/>
<polygon points="622.92,271.92 624.92,270.52 625.12,272.12 623.12,273.52" fill="#2e5bff"/>
<polygon points="620.58,279.19 622.58,277.79 622.78,279.39 620.78,280.79" fill="#2e5bff"/>
<path d="M589.7,289.37q-2.4,0.4 -2.4,2.4v4.2q0,1.6 1.8,1.0" fill="none" stroke="#666" stroke-width="0.8"/>
<path d="M625.82,268.6q1.8,-0.4 1.8,1.6v5.0q0,1.8 -1.8,2.2" fill="none" stroke="#555" stroke-width="0.8"/>
<path d="M585.32,311.02 Q585.32,308.82 587.25,307.76 L624.57,287.16 Q626.5,286.09 626.5,288.29 L626.5,309.09 Q626.5,311.29 624.57,312.35 L587.25,332.78 Q585.32,333.84 585.32,331.64 Z" fill="#fff" stroke="#8b8f94" stroke-width="0.5"/>
<path d="M587.8,313.91 Q587.8,312.11 589.38,311.24 L624.7,291.77 Q626.27,290.91 626.27,292.71 L626.27,305.51 Q626.27,307.31 624.7,308.18 L589.38,327.54 Q587.8,328.41 587.8,326.61 Z" fill="#fff" stroke="#8b8f94" stroke-width="0.5"/>
<circle cx="592.98" cy="313.69" r="0.62" fill="#3f454c"/>
<circle cx="595.83" cy="312.11" r="0.62" fill="#3f454c"/>
<circle cx="598.69" cy="310.54" r="0.62" fill="#3f454c"/>
<circle cx="601.55" cy="308.97" r="0.62" fill="#3f454c"/>
<circle cx="604.4" cy="307.4" r="0.62" fill="#3f454c"/>
<circle cx="607.26" cy="305.82" r="0.62" fill="#3f454c"/>
<circle cx="610.12" cy="304.25" r="0.62" fill="#3f454c"/>
<circle cx="612.98" cy="302.68" r="0.62" fill="#3f454c"/>
<circle cx="615.84" cy="301.1" r="0.62" fill="#3f454c"/>
<circle cx="618.69" cy="299.53" r="0.62" fill="#3f454c"/>
<circle cx="592.98" cy="316.42" r="0.62" fill="#3f454c"/>
<circle cx="595.83" cy="314.85" r="0.62" fill="#3f454c"/>
<circle cx="598.69" cy="313.28" r="0.62" fill="#3f454c"/>
<circle cx="601.55" cy="311.71" r="0.62" fill="#3f454c"/>
<circle cx="604.4" cy="310.14" r="0.62" fill="#3f454c"/>
<circle cx="607.26" cy="308.57" r="0.62" fill="#3f454c"/>
<circle cx="610.12" cy="307" r="0.62" fill="#3f454c"/>
<circle cx="612.98" cy="305.42" r="0.62" fill="#3f454c"/>
<circle cx="615.84" cy="303.85" r="0.62" fill="#3f454c"/>
<circle cx="618.69" cy="302.28" r="0.62" fill="#3f454c"/>
<circle cx="592.98" cy="319.16" r="0.62" fill="#3f454c"/>
<circle cx="595.83" cy="317.59" r="0.62" fill="#3f454c"/>
<circle cx="598.69" cy="316.02" r="0.62" fill="#3f454c"/>
<circle cx="601.55" cy="314.45" r="0.62" fill="#3f454c"/>
<circle cx="604.4" cy="312.88" r="0.62" fill="#3f454c"/>
<circle cx="607.26" cy="311.31" r="0.62" fill="#3f454c"/>
<circle cx="610.12" cy="309.74" r="0.62" fill="#3f454c"/>
<circle cx="612.98" cy="308.17" r="0.62" fill="#3f454c"/>
<circle cx="615.84" cy="306.6" r="0.62" fill="#3f454c"/>
<circle cx="618.69" cy="305.03" r="0.62" fill="#3f454c"/>
<circle cx="592.98" cy="321.9" r="0.62" fill="#3f454c"/>
<circle cx="595.83" cy="320.33" r="0.62" fill="#3f454c"/>
<circle cx="598.69" cy="318.76" r="0.62" fill="#3f454c"/>
<circle cx="601.55" cy="317.19" r="0.62" fill="#3f454c"/>
<circle cx="604.4" cy="315.63" r="0.62" fill="#3f454c"/>
<circle cx="607.26" cy="314.06" r="0.62" fill="#3f454c"/>
<circle cx="610.12" cy="312.49" r="0.62" fill="#3f454c"/>
<circle cx="612.98" cy="310.92" r="0.62" fill="#3f454c"/>
<circle cx="615.84" cy="309.35" r="0.62" fill="#3f454c"/>
<circle cx="618.69" cy="307.78" r="0.62" fill="#3f454c"/>
<polygon points="620.58,296.58 622.58,295.18 622.78,296.78 620.78,298.18" fill="#2e5bff"/>
<polygon points="622.92,299.74 624.92,298.34 625.12,299.94 623.12,301.34" fill="#2e5bff"/>
<polygon points="620.58,307 622.58,305.6 622.78,307.2 620.78,308.6" fill="#2e5bff"/>
<path d="M589.7,317.02q-2.4,0.4 -2.4,2.4v4.2q0,1.6 1.8,1.0" fill="none" stroke="#666" stroke-width="0.8"/>
<path d="M625.82,296.43q1.8,-0.4 1.8,1.6v5.0q0,1.8 -1.8,2.2" fill="none" stroke="#555" stroke-width="0.8"/>
<path d="M585.32,338.65 Q585.32,336.45 587.25,335.4 L624.57,314.98 Q626.5,313.93 626.5,316.13 L626.5,336.92 Q626.5,339.12 624.57,340.17 L587.26,360.42 Q585.32,361.47 585.32,359.27 Z" fill="#fff" stroke="#8b8f94" stroke-width="0.5"/>
<path d="M587.8,341.56 Q587.8,339.76 589.38,338.89 L624.7,319.6 Q626.27,318.74 626.27,320.54 L626.27,333.34 Q626.27,335.14 624.69,336 L589.38,355.19 Q587.8,356.05 587.8,354.25 Z" fill="#fff" stroke="#8b8f94" stroke-width="0.5"/>
<circle cx="592.98" cy="341.36" r="0.62" fill="#3f454c"/>
<circle cx="595.83" cy="339.8" r="0.62" fill="#3f454c"/>
<circle cx="598.69" cy="338.24" r="0.62" fill="#3f454c"/>
<circle cx="601.55" cy="336.68" r="0.62" fill="#3f454c"/>
<circle cx="604.4" cy="335.12" r="0.62" fill="#3f454c"/>
<circle cx="607.26" cy="333.56" r="0.62" fill="#3f454c"/>
<circle cx="610.12" cy="332" r="0.62" fill="#3f454c"/>
<circle cx="612.98" cy="330.44" r="0.62" fill="#3f454c"/>
<circle cx="615.84" cy="328.88" r="0.62" fill="#3f454c"/>
<circle cx="618.69" cy="327.33" r="0.62" fill="#3f454c"/>
<circle cx="592.98" cy="344.1" r="0.62" fill="#3f454c"/>
<circle cx="595.83" cy="342.54" r="0.62" fill="#3f454c"/>
<circle cx="598.69" cy="340.98" r="0.62" fill="#3f454c"/>
<circle cx="601.55" cy="339.42" r="0.62" fill="#3f454c"/>
<circle cx="604.4" cy="337.86" r="0.62" fill="#3f454c"/>
<circle cx="607.26" cy="336.31" r="0.62" fill="#3f454c"/>
<circle cx="610.12" cy="334.75" r="0.62" fill="#3f454c"/>
<circle cx="612.98" cy="333.19" r="0.62" fill="#3f454c"/>
<circle cx="615.84" cy="331.63" r="0.62" fill="#3f454c"/>
<circle cx="618.69" cy="330.08" r="0.62" fill="#3f454c"/>
<circle cx="592.98" cy="346.83" r="0.62" fill="#3f454c"/>
<circle cx="595.83" cy="345.28" r="0.62" fill="#3f454c"/>
<circle cx="598.69" cy="343.72" r="0.62" fill="#3f454c"/>
<circle cx="601.55" cy="342.16" r="0.62" fill="#3f454c"/>
<circle cx="604.4" cy="340.61" r="0.62" fill="#3f454c"/>
<circle cx="607.26" cy="339.05" r="0.62" fill="#3f454c"/>
<circle cx="610.12" cy="337.49" r="0.62" fill="#3f454c"/>
<circle cx="612.98" cy="335.94" r="0.62" fill="#3f454c"/>
<circle cx="615.84" cy="334.38" r="0.62" fill="#3f454c"/>
<circle cx="618.69" cy="332.83" r="0.62" fill="#3f454c"/>
<circle cx="592.98" cy="349.57" r="0.62" fill="#3f454c"/>
<circle cx="595.83" cy="348.02" r="0.62" fill="#3f454c"/>
<circle cx="598.69" cy="346.46" r="0.62" fill="#3f454c"/>
<circle cx="601.55" cy="344.91" r="0.62" fill="#3f454c"/>
<circle cx="604.4" cy="343.35" r="0.62" fill="#3f454c"/>
<circle cx="607.26" cy="341.8" r="0.62" fill="#3f454c"/>
<circle cx="610.12" cy="340.24" r="0.62" fill="#3f454c"/>
<circle cx="612.98" cy="338.69" r="0.62" fill="#3f454c"/>
<circle cx="615.84" cy="337.13" r="0.62" fill="#3f454c"/>
<circle cx="618.69" cy="335.58" r="0.62" fill="#3f454c"/>
<polygon points="620.58,324.39 622.58,322.99 622.78,324.59 620.78,325.99" fill="#2e5bff"/>
<polygon points="622.92,327.56 624.92,326.16 625.12,327.76 623.12,329.16" fill="#2e5bff"/>
<polygon points="620.58,334.81 622.58,333.41 622.78,335.01 620.78,336.41" fill="#2e5bff"/>
<path d="M589.7,344.67q-2.4,0.4 -2.4,2.4v4.2q0,1.6 1.8,1.0" fill="none" stroke="#666" stroke-width="0.8"/>
<path d="M625.82,324.25q1.8,-0.4 1.8,1.6v5.0q0,1.8 -1.8,2.2" fill="none" stroke="#555" stroke-width="0.8"/>
<path d="M585.32,366.29 Q585.32,364.09 587.26,363.04 L624.57,342.81 Q626.5,341.76 626.5,343.96 L626.5,364.75 Q626.5,366.95 624.56,367.99 L587.26,388.06 Q585.32,389.11 585.32,386.91 Z" fill="#fff" stroke="#8b8f94" stroke-width="0.5"/>
<path d="M587.8,369.2 Q587.8,367.4 589.38,366.55 L624.69,347.42 Q626.27,346.57 626.27,348.37 L626.27,361.17 Q626.27,362.97 624.69,363.82 L589.38,382.85 Q587.8,383.7 587.8,381.9 Z" fill="#fff" stroke="#8b8f94" stroke-width="0.5"/>
<circle cx="592.98" cy="369.03" r="0.62" fill="#3f454c"/>
<circle cx="595.83" cy="367.48" r="0.62" fill="#3f454c"/>
<circle cx="598.69" cy="365.94" r="0.62" fill="#3f454c"/>
<circle cx="601.55" cy="364.39" r="0.62" fill="#3f454c"/>
<circle cx="604.4" cy="362.85" r="0.62" fill="#3f454c"/>
<circle cx="607.26" cy="361.3" r="0.62" fill="#3f454c"/>
<circle cx="610.12" cy="359.76" r="0.62" fill="#3f454c"/>
<circle cx="612.98" cy="358.21" r="0.62" fill="#3f454c"/>
<circle cx="615.84" cy="356.66" r="0.62" fill="#3f454c"/>
<circle cx="618.69" cy="355.12" r="0.62" fill="#3f454c"/>
<circle cx="592.98" cy="371.77" r="0.62" fill="#3f454c"/>
<circle cx="595.83" cy="370.22" r="0.62" fill="#3f454c"/>
<circle cx="598.69" cy="368.68" r="0.62" fill="#3f454c"/>
<circle cx="601.55" cy="367.13" r="0.62" fill="#3f454c"/>
<circle cx="604.4" cy="365.59" r="0.62" fill="#3f454c"/>
<circle cx="607.26" cy="364.05" r="0.62" fill="#3f454c"/>
<circle cx="610.12" cy="362.5" r="0.62" fill="#3f454c"/>
<circle cx="612.98" cy="360.96" r="0.62" fill="#3f454c"/>
<circle cx="615.84" cy="359.41" r="0.62" fill="#3f454c"/>
<circle cx="618.69" cy="357.87" r="0.62" fill="#3f454c"/>
<circle cx="592.98" cy="374.5" r="0.62" fill="#3f454c"/>
<circle cx="595.83" cy="372.96" r="0.62" fill="#3f454c"/>
<circle cx="598.69" cy="371.42" r="0.62" fill="#3f454c"/>
<circle cx="601.55" cy="369.88" r="0.62" fill="#3f454c"/>
<circle cx="604.4" cy="368.33" r="0.62" fill="#3f454c"/>
<circle cx="607.26" cy="366.79" r="0.62" fill="#3f454c"/>
<circle cx="610.12" cy="365.25" r="0.62" fill="#3f454c"/>
<circle cx="612.98" cy="363.71" r="0.62" fill="#3f454c"/>
<circle cx="615.84" cy="362.16" r="0.62" fill="#3f454c"/>
<circle cx="618.69" cy="360.62" r="0.62" fill="#3f454c"/>
<circle cx="592.98" cy="377.24" r="0.62" fill="#3f454c"/>
<circle cx="595.83" cy="375.7" r="0.62" fill="#3f454c"/>
<circle cx="598.69" cy="374.16" r="0.62" fill="#3f454c"/>
<circle cx="601.55" cy="372.62" r="0.62" fill="#3f454c"/>
<circle cx="604.4" cy="371.08" r="0.62" fill="#3f454c"/>
<circle cx="607.26" cy="369.54" r="0.62" fill="#3f454c"/>
<circle cx="610.12" cy="367.99" r="0.62" fill="#3f454c"/>
<circle cx="612.98" cy="366.45" r="0.62" fill="#3f454c"/>
<circle cx="615.84" cy="364.91" r="0.62" fill="#3f454c"/>
<circle cx="618.69" cy="363.37" r="0.62" fill="#3f454c"/>
<polygon points="620.58,352.2 622.58,350.8 622.78,352.4 620.78,353.8" fill="#2e5bff"/>
<polygon points="622.92,355.38 624.92,353.98 625.12,355.58 623.12,356.98" fill="#2e5bff"/>
<polygon points="620.58,362.62 622.58,361.22 622.78,362.82 620.78,364.22" fill="#2e5bff"/>
<path d="M589.7,372.32q-2.4,0.4 -2.4,2.4v4.2q0,1.6 1.8,1.0" fill="none" stroke="#666" stroke-width="0.8"/>
<path d="M625.82,352.08q1.8,-0.4 1.8,1.6v5.0q0,1.8 -1.8,2.2" fill="none" stroke="#555" stroke-width="0.8"/>
<polygon points="649.7,320.7 690.7,345.7 737.2,319.2 696.2,294.2" fill="#6699ff"/>
<path d="M650.4,304 Q650.4,301 652.96,299.43 L692.84,274.97 Q695.4,273.4 697.99,274.92 L734.61,296.48 Q737.2,298 737.2,301 L737.2,308.2 Q737.2,311.2 734.64,312.77 L694.76,337.23 Q692.2,338.8 689.61,337.28 L652.99,315.72 Q650.4,314.2 650.4,311.2 Z" fill="#fff" stroke="#8b8f94" stroke-width="0.5"/>
<path d="M652.99,302.52 Q650.4,301 652.96,299.43 L692.84,274.97 Q695.4,273.4 697.99,274.92 L734.61,296.48 Q737.2,298 734.64,299.57 L694.76,324.03 Q692.2,325.6 689.61,324.08 Z" fill="#fff" stroke="#8b8f94" stroke-width="0.5"/>
<path d="M653.53,305.75L653.53,315.52M656.46,307.47L656.46,317.24M659.18,309.07L659.18,318.84M661.69,310.55L661.69,320.31M699.76,322.81L699.76,333.11M702.37,321.21L702.37,331.51M704.98,319.61L704.98,329.91M707.59,318.01L707.59,328.3" fill="none" stroke="#5e6266" stroke-width="0.85"/>
<polygon points="712.99,317.73 715.09,316.47 715.09,318.47 712.99,319.73" fill="#2e5bff"/>
<polygon points="716.53,315.56 718.63,314.3 718.63,316.3 716.53,317.56" fill="#2e5bff"/>
<polygon points="720.06,313.39 722.16,312.13 722.16,314.13 720.06,315.39" fill="#2e5bff"/>
<polygon points="723.6,311.22 725.7,309.96 725.7,311.96 723.6,313.22" fill="#2e5bff"/>
<polygon points="727.14,309.06 729.24,307.8 729.24,309.8 727.14,311.06" fill="#2e5bff"/>
<polygon points="730.68,306.89 732.78,305.63 732.78,307.63 730.68,308.89" fill="#2e5bff"/>
<polygon points="712.99,321.03 715.09,319.77 715.09,321.77 712.99,323.03" fill="#2e5bff"/>
<polygon points="716.53,318.86 718.63,317.6 718.63,319.6 716.53,320.86" fill="#2e5bff"/>
<polygon points="720.06,316.69 722.16,315.43 722.16,317.43 720.06,318.69" fill="#2e5bff"/>
<polygon points="723.6,314.52 725.7,313.26 725.7,315.26 723.6,316.52" fill="#2e5bff"/>
<polygon points="727.14,312.36 729.24,311.1 729.24,313.1 727.14,314.36" fill="#2e5bff"/>
<polygon points="730.68,310.19 732.78,308.93 732.78,310.93 730.68,312.19" fill="#2e5bff"/>
<polygon points="432.5,431.7 476.3,457.9 538.4,422.2 494.6,396" fill="#6699ff"/>
<path d="M433.4,426.7 Q433.4,425.2 434.72,424.5 L497.48,391.1 Q498.8,390.4 500.11,391.13 L538.49,412.67 Q539.8,413.4 539.8,414.9 L539.8,415.1 Q539.8,416.6 538.5,417.35 L477.7,452.25 Q476.4,453 475.1,452.26 L434.7,429.14 Q433.4,428.4 433.4,426.9 Z" fill="#fff" stroke="#8b8f94" stroke-width="0.5"/>
<path d="M434.7,425.94 Q433.4,425.2 434.72,424.5 L497.48,391.1 Q498.8,390.4 500.11,391.13 L538.49,412.67 Q539.8,413.4 538.5,414.15 L477.7,449.05 Q476.4,449.8 475.1,449.06 Z" fill="#fff" stroke="#8b8f94" stroke-width="0.5"/>
<path d="M437.47,425.89 Q436.6,425.4 437.48,424.93 L497.92,392.77 Q498.8,392.3 499.67,392.79 L535.73,413.11 Q536.6,413.6 535.73,414.1 L477.27,447.5 Q476.4,448 475.53,447.51 Z" fill="none" stroke="#8b8f94" stroke-width="0.4"/>
<path d="M499.24,396.02L495.99,397.77M494.75,398.43L491.49,400.18M490.26,400.85L487,402.6M485.76,403.26L482.5,405.01M481.27,405.68L478.01,407.43M476.77,408.09L473.51,409.84M472.28,410.51L469.02,412.26M467.78,412.92L464.52,414.67M463.29,415.34L460.03,417.09M458.79,417.76L455.54,419.51M454.3,420.17L451.04,421.92M449.8,422.59L446.55,424.34" fill="none" stroke="#686d72" stroke-width="1.9"/>
<path d="M503.06,397.44L449.77,426.25M506.21,399.21L453.05,428.12M509.36,400.98L456.32,429.99M512.5,402.75L459.59,431.86M515.65,404.51L462.86,433.72" fill="none" stroke="#686d72" stroke-width="2.35"/>
<path d="M503.04,420.23 Q503.82,419.79 504.6,420.23 L511.38,424.07 Q512.17,424.51 511.39,424.95 L495.78,433.85 Q495,434.29 494.21,433.85 L487.32,429.93 Q486.54,429.49 487.32,429.05 Z" fill="#fff" stroke="#8b8f94" stroke-width="0.5"/>
<path d="M431.6,377.7 Q431.6,375.2 433.82,374.05 L496.98,341.35 Q499.2,340.2 499.15,342.7 L498.25,387.5 Q498.2,390 495.98,391.16 L433.82,423.64 Q431.6,424.8 431.6,422.3 Z" fill="#fff" stroke="#8b8f94" stroke-width="0.5"/>
<path d="M433.1,378.2 Q433.1,376.2 434.87,375.27 L496.13,343.03 Q497.9,342.1 497.85,344.1 L496.85,386.4 Q496.8,388.4 495.05,389.36 L434.85,422.44 Q433.1,423.4 433.1,421.4 Z" fill="#fff" stroke="#8b8f94" stroke-width="0.5"/>
<path d="M441.2,383.2L454,377.1M441.2,386L454,379.9M441.2,388.8L454,382.7M441.2,391.6L454,385.5M441.2,394.4L454,388.3M441.2,397.2L454,391.1M441.2,400L454,393.9M441.2,402.8L454,396.7M441.2,405.6L454,399.5" fill="none" stroke="#2e5bff" stroke-width="1.4"/>
<polygon points="458.2,374.3 490,357 490,381.5 458.2,396.8" fill="#2e5bff"/>
<polygon points="458.7,398.9 489.7,383.1 489.7,385.6 458.7,401.6" fill="#2e5bff"/>
<polyline points="462.2,378.3 468.3,387.1 474.7,373.2 479.2,377 481.5,369.5 486.8,371.9" fill="none" stroke="#fff" stroke-width="0.75" stroke-linecap="butt" stroke-linejoin="round" />
<circle cx="462.2" cy="378.3" r="1.05" fill="#fff"/>
<circle cx="468.3" cy="387.1" r="1.05" fill="#fff"/>
<circle cx="474.7" cy="373.2" r="1.05" fill="#fff"/>
<circle cx="479.2" cy="377" r="1.05" fill="#fff"/>
<circle cx="481.5" cy="369.5" r="1.05" fill="#fff"/>
<circle cx="486.8" cy="371.9" r="1.05" fill="#fff"/>
<polygon points="294.6,393.5 336.4,417.8 398.9,382.8 357.1,358.5" fill="#6699ff"/>
<polygon points="295.3,367.6 337.8,391.6 337.8,411.3 295.3,387.8" fill="#fff" stroke="#8b8f94" stroke-width="0.5" stroke-linejoin="round"/>
<polygon points="337.8,391.6 399.6,356.8 399.6,376.7 337.8,411.3" fill="#fff" stroke="#8b8f94" stroke-width="0.5" stroke-linejoin="round"/>
<polygon points="295.3,367.6 356.6,333.1 399.6,356.8 337.8,391.6" fill="#fff" stroke="#8b8f94" stroke-width="0.5" stroke-linejoin="round"/>
<path d="M298.19,374.57L317.78,385.58M298.74,376.11L317.91,386.86M298.55,377.22L317.42,387.79M297.74,377.99L317.17,388.86M297.7,379.19L317.3,390.14M297.76,380.45L317.88,391.68M298.36,382.01L316.63,392.19M297.85,382.94L317.66,393.97M298.7,384.64L316.43,394.49" fill="none" stroke="#33373c" stroke-width="0.7"/>
<ellipse cx="341.9" cy="398.6" rx="1.9" ry="2.5" fill="#1f45f0"/>
<polygon points="346.27,389.4 359.12,382.16 359.12,396.79 346.27,404" fill="#fff" stroke="#8b8f94" stroke-width="0.45" stroke-linejoin="round"/>
<polygon points="350.7,390.7 352.8,389.55 352.8,391.64 350.7,392.8" fill="#2e5bff"/>
<polygon points="353.8,388.3 355.9,387.15 355.9,389.25 353.8,390.4" fill="#2e5bff"/>
<polygon points="350.7,396 352.8,394.85 352.8,396.94 350.7,398.1" fill="#2e5bff"/>
<polygon points="353.8,393.5 355.9,392.35 355.9,394.44 353.8,395.6" fill="#2e5bff"/>
<polygon points="361.28,383.72 371.79,377.81 371.79,382.96 361.28,388.86" fill="#dfe1e4"/>
<circle cx="363.45" cy="391.8" r="0.6" fill="#c5c9d0"/>
<circle cx="366.85" cy="389.89" r="0.6" fill="#2e5bff"/>
<circle cx="369.94" cy="388.16" r="0.6" fill="#555"/>
<polygon points="373.46,374.89 396.14,362.13 396.14,375.46 373.46,388.17" fill="#fff" stroke="#8b8f94" stroke-width="0.45" stroke-linejoin="round"/>
<polygon points="376.92,377.01 378.82,375.96 378.82,377.96 376.92,379.01" fill="#2e5bff"/>
<polygon points="380.16,375.19 382.06,374.14 382.06,376.14 380.16,377.19" fill="#2e5bff"/>
<polygon points="383.4,373.37 385.3,372.32 385.3,374.32 383.4,375.37" fill="#2e5bff"/>
<polygon points="386.63,371.55 388.53,370.5 388.53,372.5 386.63,373.55" fill="#2e5bff"/>
<polygon points="389.87,369.73 391.77,368.68 391.77,370.68 389.87,371.73" fill="#2e5bff"/>
<polygon points="393.11,367.91 395.01,366.86 395.01,368.86 393.11,369.91" fill="#2e5bff"/>
<polygon points="376.92,381.86 378.82,380.82 378.82,382.82 376.92,383.86" fill="#2e5bff"/>
<polygon points="380.16,380.05 382.06,379 382.06,381 380.16,382.05" fill="#2e5bff"/>
<polygon points="383.4,378.23 385.3,377.19 385.3,379.19 383.4,380.23" fill="#2e5bff"/>
<polygon points="386.63,376.41 388.53,375.37 388.53,377.37 386.63,378.41" fill="#2e5bff"/>
<polygon points="389.87,374.6 391.77,373.55 391.77,375.55 389.87,376.6" fill="#2e5bff"/>
<polygon points="393.11,372.78 395.01,371.73 395.01,373.73 393.11,374.78" fill="#2e5bff"/>
<polygon points="356.9,474.9 393.7,497.6 405.6,491 368.8,468.3" fill="#6699ff"/>
<polygon points="356.2,464.5 356.2,472.7 393,491.1 400.5,487.6 400.5,478" fill="#fff" stroke="#8b8f94" stroke-width="0.5" stroke-linejoin="round"/>
<polyline points="393,491.1 393,484.6 399.6,487.4" fill="none" stroke="#8b8f94" stroke-width="0.5" stroke-linecap="butt" stroke-linejoin="round" />
<ellipse cx="405.6" cy="481.4" rx="5.6" ry="7.2" fill="#fff" stroke="#8b8f94" stroke-width="0.55" transform="rotate(14 405.6 481.4)"/>
<polygon points="404.2,474.4 410,476.2 412.6,491 406.8,488.4" fill="#fff"/>
<polyline points="404.4,474.4 410,476.3" fill="none" stroke="#8b8f94" stroke-width="0.5" stroke-linecap="butt" stroke-linejoin="round" />
<polyline points="407,488.6 412.8,491" fill="none" stroke="#8b8f94" stroke-width="0.5" stroke-linecap="butt" stroke-linejoin="round" />
<ellipse cx="411.3" cy="483.7" rx="5.6" ry="7.5" fill="#fff" stroke="#8b8f94" stroke-width="0.55" transform="rotate(14 411.3 483.7)"/>
<ellipse cx="411.7" cy="483.9" rx="4.2" ry="5.8" fill="#fff" stroke="#b0b4b8" stroke-width="0.5" transform="rotate(14 411.7 483.9)"/>
<path d="M355.24,464.05 Q354,463.4 354.4,462.06 L357.2,452.64 Q357.6,451.3 358.81,450.6 L372.39,442.7 Q373.6,442 374.81,442.71 L417.69,467.89 Q418.9,468.6 418.35,469.89 L416.95,473.11 Q416.4,474.4 415.04,474.73 L404.56,477.27 Q403.2,477.6 402.72,478.91 L400.08,486.09 Q399.6,487.4 398.36,486.75 Z" fill="#fff" stroke="#8b8f94" stroke-width="0.5"/>
<polyline points="357.6,451.3 403.2,477.6 418.6,469.2" fill="none" stroke="#8b8f94" stroke-width="0.5" stroke-linecap="butt" stroke-linejoin="round" />
<polygon points="157.4,354.9 181.5,370.6 216.5,351.4 192.4,335.7" fill="#6699ff"/>
<path d="M156.2,348.25 Q156.2,346.7 158.97,345.09 L186.53,329.11 Q189.3,327.5 192.06,329.11 L213.94,341.89 Q216.7,343.5 216.7,345.05 L216.7,345.05 Q216.7,346.6 213.93,348.19 L186.07,364.21 Q183.3,365.8 180.54,364.17 L158.96,351.43 Q156.2,349.8 156.2,348.25 Z" fill="#fff" stroke="#8b8f94" stroke-width="0.5"/>
<path d="M158.96,348.33 Q156.2,346.7 158.97,345.09 L186.53,329.11 Q189.3,327.5 192.06,329.11 L213.94,341.89 Q216.7,343.5 213.93,345.09 L186.07,361.11 Q183.3,362.7 180.54,361.07 Z" fill="#fff" stroke="#8b8f94" stroke-width="0.5"/>
<path d="M161.44,348.02 Q159.2,346.7 161.45,345.4 L187.05,330.6 Q189.3,329.3 191.55,330.61 L211.45,342.19 Q213.7,343.5 211.44,344.79 L185.56,359.61 Q183.3,360.9 181.06,359.58 Z" fill="none" stroke="#8b8f94" stroke-width="0.45"/>
<clipPath id="fb0"><ellipse cx="178.3" cy="350.1" rx="3.8" ry="2.4" transform="rotate(-8 178.3 350.1)"/></clipPath>
<ellipse cx="178.3" cy="350.1" rx="3.8" ry="2.4" fill="#2e5bff" transform="rotate(-8 178.3 350.1)"/>
<ellipse cx="180.2" cy="350.6" rx="3.6" ry="2.3" fill="#8a8f94" transform="rotate(-8 178.3 350.1)" clip-path="url(#fb0)"/>
<clipPath id="fb1"><ellipse cx="184.2" cy="346.7" rx="3.8" ry="2.4" transform="rotate(-8 184.2 346.7)"/></clipPath>
<ellipse cx="184.2" cy="346.7" rx="3.8" ry="2.4" fill="#2e5bff" transform="rotate(-8 184.2 346.7)"/>
<ellipse cx="185.65" cy="347.55" rx="3.6" ry="2.3" fill="#8a8f94" transform="rotate(-8 184.2 346.7)" clip-path="url(#fb1)"/>
<clipPath id="fb2"><ellipse cx="189.9" cy="342.9" rx="3.8" ry="2.4" transform="rotate(-8 189.9 342.9)"/></clipPath>
<ellipse cx="189.9" cy="342.9" rx="3.8" ry="2.4" fill="#2e5bff" transform="rotate(-8 189.9 342.9)"/>
<ellipse cx="190.9" cy="344.1" rx="3.6" ry="2.3" fill="#8a8f94" transform="rotate(-8 189.9 342.9)" clip-path="url(#fb2)"/>
<clipPath id="fb3"><ellipse cx="195.6" cy="339.9" rx="3.8" ry="2.4" transform="rotate(-8 195.6 339.9)"/></clipPath>
<ellipse cx="195.6" cy="339.9" rx="3.8" ry="2.4" fill="#2e5bff" transform="rotate(-8 195.6 339.9)"/>
<ellipse cx="196.15" cy="341.45" rx="3.6" ry="2.3" fill="#8a8f94" transform="rotate(-8 195.6 339.9)" clip-path="url(#fb3)"/>
<polygon points="115,379 137.9,392.7 151.1,385.1 128.2,371.4" fill="#6699ff"/>
<path d="M114.2,375.35 Q114.2,374.6 115.71,373.62 L125.59,367.18 Q127.1,366.2 128.64,367.13 L150.36,380.17 Q151.9,381.1 151.9,381.85 L151.9,381.85 Q151.9,382.6 150.34,383.5 L140.26,389.3 Q138.7,390.2 137.14,389.3 L115.76,377 Q114.2,376.1 114.2,375.35 Z" fill="#fff" stroke="#b4b8bc" stroke-width="0.5"/>
<path d="M115.76,375.5 Q114.2,374.6 115.71,373.62 L125.59,367.18 Q127.1,366.2 128.64,367.13 L150.36,380.17 Q151.9,381.1 150.34,382 L140.26,387.8 Q138.7,388.7 137.14,387.8 Z" fill="#fff" stroke="#b4b8bc" stroke-width="0.5"/>
<polyline points="117.2,373.6 126.8,367.8" fill="none" stroke="#b4b8bc" stroke-width="0.4" stroke-linecap="butt" stroke-linejoin="round" />
<polyline points="139,386.8 149.4,380.8" fill="none" stroke="#b4b8bc" stroke-width="0.4" stroke-linecap="butt" stroke-linejoin="round" />
<polyline points="120.8,375.6 128.8,372.1" fill="none" stroke="#2e5bff" stroke-width="1.7" stroke-linecap="butt" stroke-linejoin="round" />
<polyline points="127.9,376.4 135.6,372.7" fill="none" stroke="#2e5bff" stroke-width="1.7" stroke-linecap="butt" stroke-linejoin="round" />
<polygon points="174.2,459.4 214.2,482.4 286,441.2 246,418.2" fill="#6699ff"/>
<polygon points="173.1,441.2 214.7,463.9 214.7,474.6 173.1,451.7" fill="#fff" stroke="#8b8f94" stroke-width="0.5" stroke-linejoin="round"/>
<polygon points="214.7,463.9 285.9,425.6 285.9,436.7 214.7,474.6" fill="#fff" stroke="#8b8f94" stroke-width="0.5" stroke-linejoin="round"/>
<polygon points="173.1,441.2 243.1,401.4 285.9,425.6 214.7,463.9" fill="#fff" stroke="#8b8f94" stroke-width="0.5" stroke-linejoin="round"/>
<circle cx="178.3" cy="441.6" r="0.85" fill="#333"/>
<circle cx="243.5" cy="404.6" r="0.85" fill="#333"/>
<circle cx="279.9" cy="425.6" r="0.85" fill="#333"/>
<circle cx="214.2" cy="462.2" r="0.85" fill="#333"/>
<ellipse cx="218.3" cy="467.8" rx="1.6" ry="2.1" fill="#9a9da1" stroke="#75787c" stroke-width="0.4" transform="rotate(20 218.3 467.8)"/>
<polygon points="228.7,464.9 231.1,463.55 231.1,462.65 228.7,464" fill="#7b86b8"/>
<polygon points="228.7,463.7 231.1,462.35 231.1,461.45 228.7,462.8" fill="#7b86b8"/>
<polygon points="228.7,462.5 231.1,461.15 231.1,460.25 228.7,461.6" fill="#7b86b8"/>
<polygon points="228.7,461.3 231.1,459.95 231.1,459.05 228.7,460.4" fill="#7b86b8"/>
<polygon points="228.7,460.1 231.1,458.75 231.1,457.85 228.7,459.2" fill="#7b86b8"/>
<polygon points="232,462.94 234.4,461.58 234.4,460.69 232,462.04" fill="#2e5bff"/>
<polygon points="232,461.74 234.4,460.38 234.4,459.49 232,460.84" fill="#2e5bff"/>
<polygon points="232,460.54 234.4,459.19 234.4,458.29 232,459.64" fill="#2e5bff"/>
<polygon points="232,459.33 234.4,457.98 234.4,457.08 232,458.44" fill="#2e5bff"/>
<polygon points="232,458.13 234.4,456.78 234.4,455.88 232,457.24" fill="#7b86b8"/>
<polygon points="235.3,460.97 237.7,459.62 237.7,458.72 235.3,460.07" fill="#2e5bff"/>
<polygon points="235.3,459.77 237.7,458.42 237.7,457.52 235.3,458.87" fill="#2e5bff"/>
<polygon points="235.3,458.57 237.7,457.22 237.7,456.32 235.3,457.67" fill="#2e5bff"/>
<polygon points="235.3,457.37 237.7,456.02 237.7,455.12 235.3,456.47" fill="#7b86b8"/>
<polygon points="235.3,456.17 237.7,454.82 237.7,453.92 235.3,455.27" fill="#7b86b8"/>
<polygon points="238.6,459 241,457.65 241,456.75 238.6,458.11" fill="#2e5bff"/>
<polygon points="238.6,457.81 241,456.45 241,455.56 238.6,456.91" fill="#2e5bff"/>
<polygon points="238.6,456.61 241,455.25 241,454.36 238.6,455.71" fill="#2e5bff"/>
<polygon points="238.6,455.4 241,454.05 241,453.15 238.6,454.5" fill="#7b86b8"/>
<polygon points="238.6,454.2 241,452.85 241,451.95 238.6,453.31" fill="#7b86b8"/>
<polygon points="241.9,457.04 244.3,455.69 244.3,454.79 241.9,456.14" fill="#2e5bff"/>
<polygon points="241.9,455.84 244.3,454.49 244.3,453.59 241.9,454.94" fill="#2e5bff"/>
<polygon points="241.9,454.64 244.3,453.29 244.3,452.39 241.9,453.74" fill="#7b86b8"/>
<polygon points="241.9,453.44 244.3,452.09 244.3,451.19 241.9,452.54" fill="#7b86b8"/>
<polygon points="241.9,452.24 244.3,450.89 244.3,449.99 241.9,451.34" fill="#7b86b8"/>
<polygon points="245.2,455.07 247.6,453.72 247.6,452.82 245.2,454.18" fill="#7b86b8"/>
<polygon points="245.2,453.88 247.6,452.52 247.6,451.62 245.2,452.98" fill="#7b86b8"/>
<polygon points="245.2,452.68 247.6,451.32 247.6,450.43 245.2,451.78" fill="#7b86b8"/>
<polygon points="245.2,451.47 247.6,450.12 247.6,449.22 245.2,450.57" fill="#7b86b8"/>
<polygon points="245.2,450.27 247.6,448.92 247.6,448.02 245.2,449.38" fill="#7b86b8"/>
<polygon points="248.5,453.11 250.9,451.76 250.9,450.86 248.5,452.21" fill="#2e5bff"/>
<polygon points="248.5,451.91 250.9,450.56 250.9,449.66 248.5,451.01" fill="#2e5bff"/>
<polygon points="248.5,450.71 250.9,449.36 250.9,448.46 248.5,449.81" fill="#2e5bff"/>
<polygon points="248.5,449.51 250.9,448.16 250.9,447.26 248.5,448.61" fill="#2e5bff"/>
<polygon points="248.5,448.31 250.9,446.96 250.9,446.06 248.5,447.41" fill="#2e5bff"/>
<path d="M258.23,444.3 Q258.2,443.6 258.72,443.13 L259.88,442.07 Q260.4,441.6 261.02,441.27 L264.78,439.23 Q265.4,438.9 265.43,439.6 L265.57,442.7 Q265.6,443.4 265.11,443.89 L264.09,444.91 Q263.6,445.4 262.96,445.69 L259.04,447.51 Q258.4,447.8 258.37,447.1 Z" fill="#fff" stroke="#8b8f94" stroke-width="0.45"/>
<polygon points="270.1,438.1 272.2,436.9 272.3,439.1 270.2,440.3" fill="#2e5bff" stroke="#2e5bff" stroke-width="0.4" stroke-linejoin="round"/>
<polygon points="273.4,436.3 275.5,435.1 275.6,437.3 273.5,438.5" fill="#2e5bff" stroke="#2e5bff" stroke-width="0.4" stroke-linejoin="round"/>
<polygon points="276.6,434.4 278.7,433.2 278.8,435.4 276.7,436.6" fill="#2e5bff" stroke="#2e5bff" stroke-width="0.4" stroke-linejoin="round"/>
<polygon points="280,432.2 282.1,431 282.2,433.2 280.1,434.4" fill="#2e5bff" stroke="#2e5bff" stroke-width="0.4" stroke-linejoin="round"/>
<polygon points="89.1,511.6 123.4,532 174.9,503.6 140.6,483.2" fill="#6699ff"/>
<polygon points="88.1,490.3 124.2,510.7 124.2,525.9 88.1,505.7" fill="#fff" stroke="#8b8f94" stroke-width="0.5" stroke-linejoin="round"/>
<polygon points="124.2,510.7 175.9,481.5 175.9,496.9 124.2,525.9" fill="#fff" stroke="#8b8f94" stroke-width="0.5" stroke-linejoin="round"/>
<polygon points="88.1,490.3 139.6,461.2 175.9,481.5 124.2,510.7" fill="#fff" stroke="#8b8f94" stroke-width="0.5" stroke-linejoin="round"/>
<path d="M124.2,514.04L143.85,502.96Q146.95,501.52 148.5,504.7Q150.05,507.88 152.63,506.73L175.9,493.67" fill="none" stroke="#8b8f94" stroke-width="0.45"/>
<ellipse cx="130.82" cy="516.1" rx="2.9" ry="3.5" fill="#fff" stroke="#8b8f94" stroke-width="0.5" transform="rotate(25 130.82 516.1)"/>
<ellipse cx="138.16" cy="512.12" rx="1.7" ry="2.2" fill="#1f45f0" transform="rotate(30 138.16 512.12)"/>
<polygon points="159.1,492.52 173.57,484.35 173.57,491.43 159.1,499.58" fill="#eef0f3"/>
<polygon points="160.13,493.63 162.13,492.53 162.13,495.13 160.13,496.23" fill="#2445d8"/>
<polygon points="165.04,490.86 167.04,489.76 167.04,492.36 165.04,493.46" fill="#2445d8"/>
<polygon points="169.44,488.38 171.44,487.28 171.44,489.88 169.44,490.98" fill="#2445d8"/>
<polygon points="103.4,605.2 144.2,629.6 207.8,594.4 167,570" fill="#6699ff"/>
<polygon points="103.4,580.1 145.5,604.4 145.5,623.6 103.4,599.8" fill="#fff" stroke="#8b8f94" stroke-width="0.5" stroke-linejoin="round"/>
<polygon points="145.5,604.4 207.8,570.1 207.8,589.3 145.5,623.6" fill="#fff" stroke="#8b8f94" stroke-width="0.5" stroke-linejoin="round"/>
<polygon points="103.4,580.1 165.2,545.4 207.8,570.1 145.5,604.4" fill="#fff" stroke="#8b8f94" stroke-width="0.5" stroke-linejoin="round"/>
<path d="M106.34,587.1L125.1,597.88M106.75,588.62L125.2,599.2M106.6,589.81L124.83,600.25M106,590.75L124.65,601.41M105.97,592.01L124.74,602.73M106.01,593.31L125.18,604.24M106.46,594.85L124.25,604.97M106.08,595.91L125.01,606.67M106.72,597.55L124.1,607.41" fill="none" stroke="#8d9298" stroke-width="0.55"/>
<polyline points="147.37,606.06 176.65,589.94" fill="none" stroke="#8b8f94" stroke-width="0.4" stroke-linecap="butt" stroke-linejoin="round" />
<path d="M181.95,602.19L182.88,595.88Q183.19,593.65 184.79,592.85L207.8,580.08" fill="none" stroke="#8b8f94" stroke-width="0.45"/>
<polygon points="149.24,606.85 173.85,593.31 173.85,605.02 149.24,618.57" fill="#4e5257"/>
<polygon points="152.04,608.48 160.76,603.68 160.76,608.57 152.04,613.37" fill="#b4b7bb"/>
<polygon points="162.01,602.99 171.35,597.85 171.35,602.74 162.01,607.89" fill="#b4b7bb"/>
<polygon points="188.18,581.86 205,572.6 205,579.52 188.18,588.78" fill="#eef0f3"/>
<polygon points="189.73,582.54 191.83,581.39 191.83,583.89 189.73,585.04" fill="#2445d8"/>
<polygon points="195.34,579.46 197.44,578.3 197.44,580.8 195.34,581.96" fill="#2445d8"/>
<polygon points="200.95,576.37 203.05,575.21 203.05,577.71 200.95,578.87" fill="#2445d8"/>
<polygon points="221.2,551 258.4,572.4 325.6,533.6 288.4,512.2" fill="#6699ff"/>
<polygon points="219.9,519.4 259.2,540 259.2,566.8 219.9,545" fill="#fff" stroke="#8b8f94" stroke-width="0.5" stroke-linejoin="round"/>
<polygon points="259.2,540 326.4,503.4 326.4,529.6 259.2,566.8" fill="#fff" stroke="#8b8f94" stroke-width="0.5" stroke-linejoin="round"/>
<polygon points="219.9,519.4 285.8,480.6 326.4,503.4 259.2,540" fill="#fff" stroke="#8b8f94" stroke-width="0.5" stroke-linejoin="round"/>
<circle cx="225.9" cy="519.7" r="0.85" fill="#333"/>
<circle cx="286.2" cy="484.1" r="0.85" fill="#333"/>
<circle cx="321" cy="503.1" r="0.85" fill="#333"/>
<circle cx="258.4" cy="538.1" r="0.85" fill="#333"/>
<polygon points="261.62,540.29 280.97,529.74 280.97,553.15 261.62,563.85" fill="#fff" stroke="#c3c6ca" stroke-width="0.4" stroke-linejoin="round"/>
<polygon points="262.43,540.92 280.17,531.24 280.17,537.76 262.43,547.48" fill="#fff" stroke="#c3c6ca" stroke-width="0.35" stroke-linejoin="round"/>
<polygon points="263.97,541.82 278.62,533.82 278.62,536.88 263.97,544.89" fill="#5a5e63"/>
<path d="M263.97,542.89L278.62,534.88M263.97,543.9L278.62,535.89" fill="none" stroke="#a0a3a7" stroke-width="0.3"/>
<polygon points="262.43,548.15 280.17,538.43 280.17,544.95 262.43,554.71" fill="#fff" stroke="#c3c6ca" stroke-width="0.35" stroke-linejoin="round"/>
<polygon points="263.97,549.04 278.62,541.01 278.62,544.07 263.97,552.12" fill="#5a5e63"/>
<path d="M263.97,550.11L278.62,542.07M263.97,551.13L278.62,543.08" fill="none" stroke="#a0a3a7" stroke-width="0.3"/>
<polygon points="262.43,555.38 280.17,545.61 280.17,552.13 262.43,561.94" fill="#fff" stroke="#c3c6ca" stroke-width="0.35" stroke-linejoin="round"/>
<polygon points="263.97,556.27 278.62,548.19 278.62,551.26 263.97,559.34" fill="#5a5e63"/>
<path d="M263.97,557.34L278.62,549.26M263.97,558.35L278.62,550.27" fill="none" stroke="#a0a3a7" stroke-width="0.3"/>
<polygon points="283.26,528.49 302.61,517.94 302.61,541.18 283.26,551.89" fill="#fff" stroke="#c3c6ca" stroke-width="0.4" stroke-linejoin="round"/>
<polygon points="284.06,529.12 301.8,519.44 301.8,525.91 284.06,535.63" fill="#fff" stroke="#c3c6ca" stroke-width="0.35" stroke-linejoin="round"/>
<polygon points="285.61,530 300.26,522 300.26,525.04 285.61,533.05" fill="#5a5e63"/>
<path d="M285.61,531.06L300.26,523.06M285.61,532.07L300.26,524.06" fill="none" stroke="#a0a3a7" stroke-width="0.3"/>
<polygon points="284.06,536.29 301.8,526.57 301.8,533.04 284.06,542.8" fill="#fff" stroke="#c3c6ca" stroke-width="0.35" stroke-linejoin="round"/>
<polygon points="285.61,537.17 300.26,529.14 300.26,532.18 285.61,540.23" fill="#5a5e63"/>
<path d="M285.61,538.23L300.26,530.19M285.61,539.24L300.26,531.2" fill="none" stroke="#a0a3a7" stroke-width="0.3"/>
<polygon points="284.06,543.47 301.8,533.7 301.8,540.18 284.06,549.98" fill="#fff" stroke="#c3c6ca" stroke-width="0.35" stroke-linejoin="round"/>
<polygon points="285.61,544.34 300.26,536.27 300.26,539.31 285.61,547.4" fill="#5a5e63"/>
<path d="M285.61,545.41L300.26,537.33M285.61,546.42L300.26,538.33" fill="none" stroke="#a0a3a7" stroke-width="0.3"/>
<polygon points="304.9,516.7 324.25,506.14 324.25,529.22 304.9,539.92" fill="#fff" stroke="#c3c6ca" stroke-width="0.4" stroke-linejoin="round"/>
<polygon points="305.7,517.31 323.44,507.63 323.44,514.06 305.7,523.78" fill="#fff" stroke="#c3c6ca" stroke-width="0.35" stroke-linejoin="round"/>
<polygon points="307.25,518.18 321.9,510.18 321.9,513.2 307.25,521.21" fill="#5a5e63"/>
<path d="M307.25,519.24L321.9,511.23M307.25,520.24L321.9,512.23" fill="none" stroke="#a0a3a7" stroke-width="0.3"/>
<polygon points="305.7,524.44 323.44,514.71 323.44,521.14 305.7,530.9" fill="#fff" stroke="#c3c6ca" stroke-width="0.35" stroke-linejoin="round"/>
<polygon points="307.25,525.3 321.9,517.27 321.9,520.28 307.25,528.34" fill="#5a5e63"/>
<path d="M307.25,526.36L321.9,518.32M307.25,527.36L321.9,519.31" fill="none" stroke="#a0a3a7" stroke-width="0.3"/>
<polygon points="305.7,531.56 323.44,521.8 323.44,528.22 305.7,538.02" fill="#fff" stroke="#c3c6ca" stroke-width="0.35" stroke-linejoin="round"/>
<polygon points="307.25,532.42 321.9,524.35 321.9,527.37 307.25,535.46" fill="#5a5e63"/>
<path d="M307.25,533.48L321.9,525.4M307.25,534.48L321.9,526.4" fill="none" stroke="#a0a3a7" stroke-width="0.3"/>
</svg>
</body>
</html>
